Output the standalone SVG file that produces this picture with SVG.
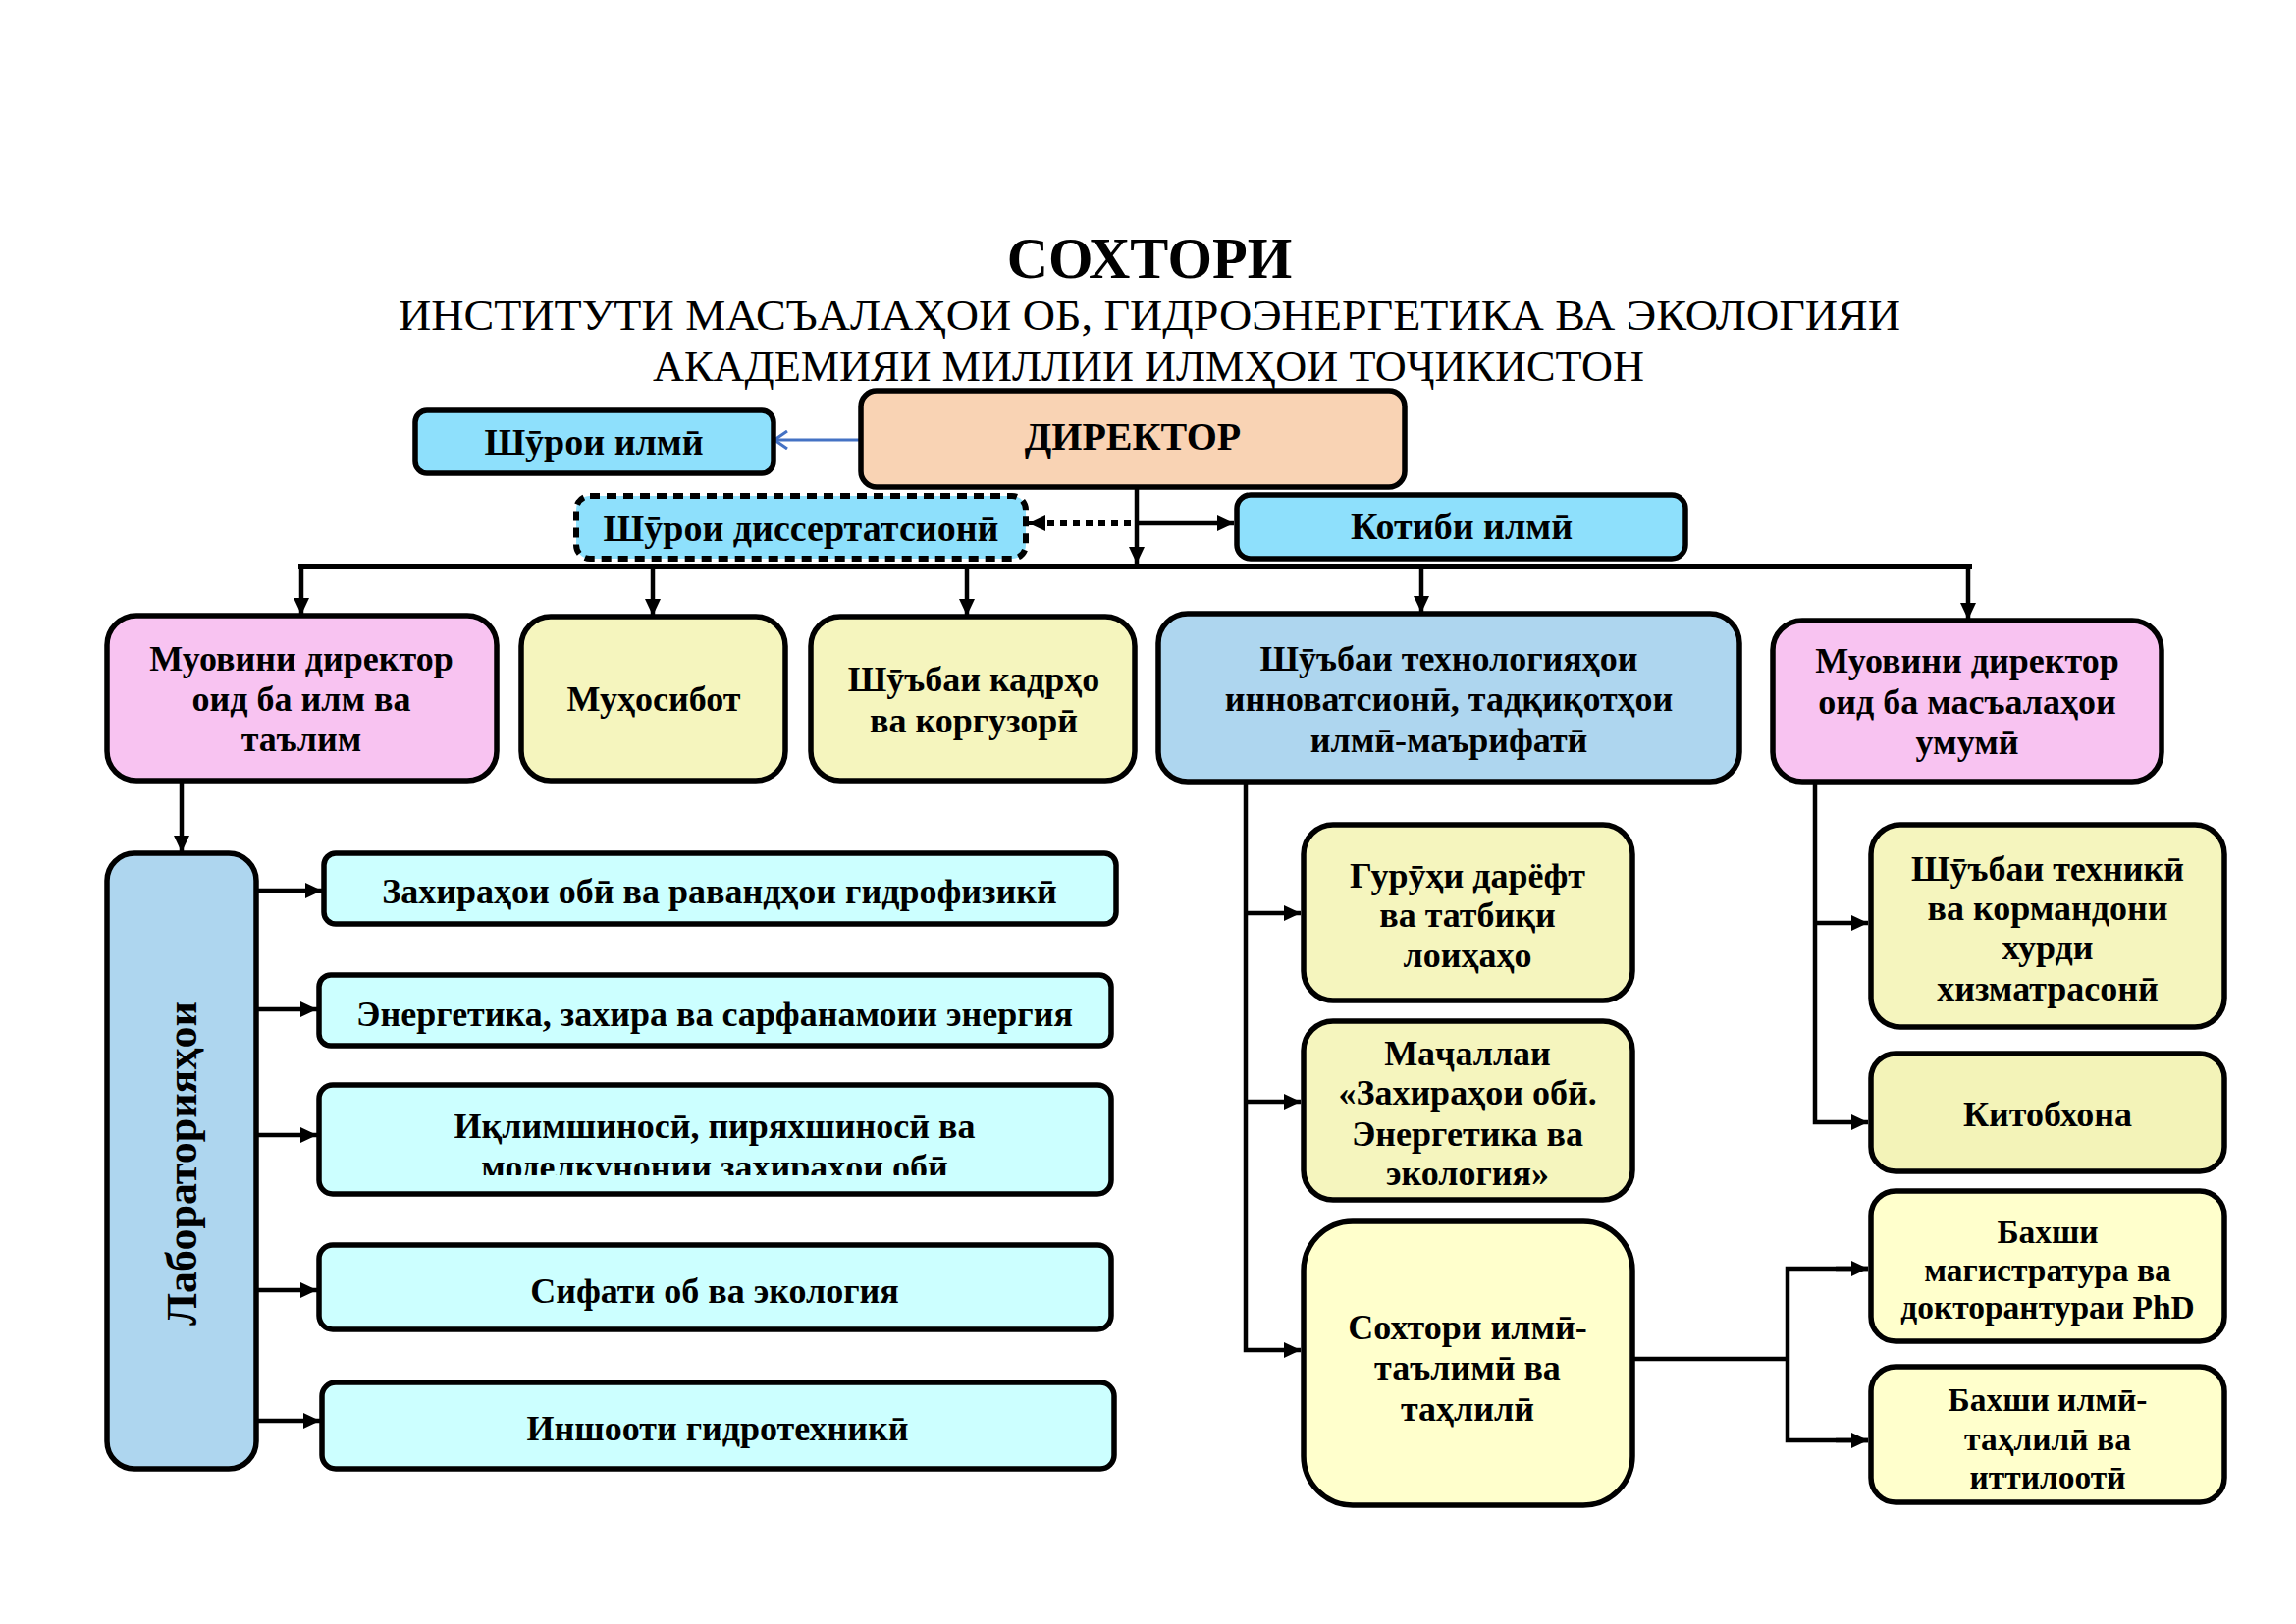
<svg xmlns="http://www.w3.org/2000/svg" width="2339" height="1654" viewBox="0 0 2339 1654">
<style>
text{font-family:"Liberation Serif","Times New Roman",serif;fill:#000;text-anchor:middle}
.b{font-weight:bold}
.box{stroke:#000;stroke-width:5.5}
.cyan{fill:#8EE0FC}
.peach{fill:#F9D3B4}
.pink{fill:#F8C3F1}
.yel{fill:#F5F5BE}
.lyel{fill:#FFFFCC}
.blue{fill:#AED6EF}
.lab{fill:#CCFFFF}
.t38{font-size:38px;font-weight:bold}
.t36{font-size:36px;font-weight:bold}
.t33{font-size:33.5px;font-weight:bold}
.ln{stroke:#000;stroke-width:4.5;fill:none}
</style>
<defs>
<marker id="ah" markerUnits="userSpaceOnUse" markerWidth="18" markerHeight="18" refX="17" refY="9" orient="auto"><path d="M0,1 L17,9 L0,17 z" fill="#000"/></marker>
<marker id="ahb" markerUnits="userSpaceOnUse" markerWidth="16" markerHeight="20" refX="14" refY="10" orient="auto"><path d="M1,1 L14,10 L1,19" fill="none" stroke="#4472C4" stroke-width="3"/></marker>
<clipPath id="clipc"><rect x="320" y="1100" width="830" height="97"/></clipPath>
</defs>
<rect width="2339" height="1654" fill="#fff"/>
<g id="title">
<text x="1171" y="283" class="b" font-size="58.5">СОХТОРИ</text>
<text x="1171" y="336" font-size="45" textLength="1530" lengthAdjust="spacingAndGlyphs">ИНСТИТУТИ МАСЪАЛАҲОИ ОБ, ГИДРОЭНЕРГЕТИКА ВА ЭКОЛОГИЯИ</text>
<text x="1170" y="388" font-size="45" textLength="1010" lengthAdjust="spacingAndGlyphs">АКАДЕМИЯИ МИЛЛИИ ИЛМҲОИ ТОҶИКИСТОН</text>
</g>
<g id="connectors">
<line x1="875" y1="448" x2="789" y2="448" stroke="#4472C4" stroke-width="3" marker-end="url(#ahb)"/>
<line class="ln" x1="1158" y1="497" x2="1158" y2="574" marker-end="url(#ah)"/>
<line x1="1152" y1="533" x2="1060" y2="533" stroke="#000" stroke-width="6" stroke-dasharray="7,6"/>
<line x1="1062" y1="533" x2="1048" y2="533" stroke="#000" stroke-width="4" marker-end="url(#ah)"/>
<line class="ln" x1="1158" y1="533" x2="1257" y2="533" marker-end="url(#ah)"/>
<line x1="304" y1="577" x2="2009" y2="577" stroke="#000" stroke-width="6"/>
<line class="ln" x1="307" y1="577" x2="307" y2="626" marker-end="url(#ah)"/>
<line class="ln" x1="665" y1="577" x2="665" y2="627" marker-end="url(#ah)"/>
<line class="ln" x1="985" y1="577" x2="985" y2="627" marker-end="url(#ah)"/>
<line class="ln" x1="1448" y1="577" x2="1448" y2="624" marker-end="url(#ah)"/>
<line class="ln" x1="2005" y1="577" x2="2005" y2="631" marker-end="url(#ah)"/>
<line class="ln" x1="185" y1="795" x2="185" y2="868" marker-end="url(#ah)"/>
<line class="ln" x1="261" y1="907" x2="328" y2="907" stroke-width="6" marker-end="url(#ah)"/>
<line class="ln" x1="261" y1="1028" x2="323" y2="1028" stroke-width="6" marker-end="url(#ah)"/>
<line class="ln" x1="261" y1="1156" x2="323" y2="1156" stroke-width="6" marker-end="url(#ah)"/>
<line class="ln" x1="261" y1="1314" x2="323" y2="1314" stroke-width="6" marker-end="url(#ah)"/>
<line class="ln" x1="261" y1="1447" x2="326" y2="1447" stroke-width="6" marker-end="url(#ah)"/>
<polyline class="ln" points="1269,796 1269,1375 1325,1375" marker-end="url(#ah)"/>
<line class="ln" x1="1269" y1="930" x2="1325" y2="930" marker-end="url(#ah)"/>
<line class="ln" x1="1269" y1="1122" x2="1325" y2="1122" marker-end="url(#ah)"/>
<polyline class="ln" points="1849,796 1849,1143 1903,1143" marker-end="url(#ah)"/>
<line class="ln" x1="1849" y1="940" x2="1903" y2="940" marker-end="url(#ah)"/>
<line class="ln" x1="1663" y1="1384" x2="1821" y2="1384"/>
<polyline class="ln" points="1903,1292 1821,1292 1821,1467 1903,1467"/>
<line class="ln" x1="1870" y1="1292" x2="1903" y2="1292" marker-end="url(#ah)"/>
<line class="ln" x1="1870" y1="1467" x2="1903" y2="1467" marker-end="url(#ah)"/>
</g>
<g id="shuroi-ilmi"><rect class="box cyan" x="423" y="418" width="365" height="64" rx="12"/><text x="605" y="463" class="t38">Шӯрои илмӣ</text></g>
<g id="director"><rect class="box peach" x="877" y="398" width="554" height="98" rx="16" stroke-width="7"/><text x="1154" y="458" class="b" font-size="40">ДИРЕКТОР</text></g>
<g id="shuroi-dissert"><rect x="587" y="505" width="458" height="64" rx="14" class="cyan" stroke="#000" stroke-width="6" stroke-dasharray="10,7"/><text x="816" y="551" class="t38">Шӯрои диссертатсионӣ</text></g>
<g id="kotibi"><rect class="box cyan" x="1260" y="504" width="457" height="65" rx="14"/><text x="1489" y="549" class="t38">Котиби илмӣ</text></g>
<g id="muovin1"><rect class="box pink" x="109" y="627" width="397" height="168" rx="30"/><text class="t36"><tspan x="307" y="683">Муовини директор</tspan><tspan x="307" y="724">оид ба илм ва</tspan><tspan x="307" y="765">таълим</tspan></text></g>
<g id="muhosibot"><rect class="box yel" x="531" y="628" width="269" height="167" rx="30"/><text x="666" y="724" class="t36">Муҳосибот</text></g>
<g id="kadrho"><rect class="box yel" x="826" y="628" width="330" height="167" rx="30"/><text class="t36"><tspan x="992" y="704">Шӯъбаи кадрҳо</tspan><tspan x="992" y="746">ва коргузорӣ</tspan></text></g>
<g id="tech"><rect class="box blue" x="1180" y="625" width="592" height="171" rx="30"/><text class="t36"><tspan x="1476" y="683">Шӯъбаи технологияҳои</tspan><tspan x="1476" y="724">инноватсионӣ, тадқиқотҳои</tspan><tspan x="1476" y="766">илмӣ-маърифатӣ</tspan></text></g>
<g id="muovin2"><rect class="box pink" x="1806" y="632" width="396" height="164" rx="30"/><text class="t36"><tspan x="2004" y="685">Муовини директор</tspan><tspan x="2004" y="727">оид ба масъалаҳои</tspan><tspan x="2004" y="768">умумӣ</tspan></text></g>
<g id="labs"><rect class="box blue" x="109" y="869" width="152" height="627" rx="28"/><text transform="translate(200,1185) rotate(-90)" class="b" font-size="44">Лабораторияҳои</text></g>
<g id="lab1"><rect class="box lab" x="330" y="869" width="807" height="72" rx="12"/><text x="733" y="920" class="t36">Захираҳои обӣ ва равандҳои гидрофизикӣ</text></g>
<g id="lab2"><rect class="box lab" x="325" y="993" width="807" height="72" rx="12"/><text x="728" y="1045" class="t36">Энергетика, захира ва сарфанамоии энергия</text></g>
<g id="lab3"><rect class="box lab" x="325" y="1105" width="807" height="111" rx="14"/><text x="728" y="1159" class="t36">Иқлимшиносӣ, пиряхшиносӣ ва</text><text x="728" y="1201" class="t36" clip-path="url(#clipc)">моделкунонии захираҳои обӣ</text></g>
<g id="lab4"><rect class="box lab" x="325" y="1268" width="807" height="86" rx="14"/><text x="728" y="1327" class="t36">Сифати об ва экология</text></g>
<g id="lab5"><rect class="box lab" x="328" y="1408" width="807" height="88" rx="14"/><text x="731" y="1467" class="t36">Иншооти гидротехникӣ</text></g>
<g id="guruh"><rect class="box yel" x="1328" y="840" width="335" height="179" rx="30"/><text class="t36"><tspan x="1495" y="904">Гурӯҳи дарёфт</tspan><tspan x="1495" y="944">ва татбиқи</tspan><tspan x="1495" y="985">лоиҳаҳо</tspan></text></g>
<g id="majalla"><rect class="box yel" x="1328" y="1040" width="335" height="182" rx="30"/><text class="t36"><tspan x="1495" y="1085">Маҷаллаи</tspan><tspan x="1495" y="1125">«Захираҳои обӣ.</tspan><tspan x="1495" y="1167">Энергетика ва</tspan><tspan x="1495" y="1207">экология»</tspan></text></g>
<g id="sohtori"><rect class="box lyel" x="1328" y="1244" width="335" height="289" rx="50"/><text class="t36"><tspan x="1495" y="1364">Сохтори илмӣ-</tspan><tspan x="1495" y="1405">таълимӣ ва</tspan><tspan x="1495" y="1447">таҳлилӣ</tspan></text></g>
<g id="shubai-tehniki"><rect class="box yel" x="1906" y="840" width="360" height="206" rx="30"/><text class="t36"><tspan x="2086" y="897">Шӯъбаи техникӣ</tspan><tspan x="2086" y="937">ва кормандони</tspan><tspan x="2086" y="977">хурди</tspan><tspan x="2086" y="1019">хизматрасонӣ</tspan></text></g>
<g id="kitobhona"><rect class="box" fill="#F3F3B8" x="1906" y="1073" width="360" height="120" rx="25"/><text x="2086" y="1147" class="t36">Китобхона</text></g>
<g id="magistratura"><rect class="box lyel" x="1906" y="1213" width="360" height="153" rx="25"/><text class="t33"><tspan x="2086" y="1266">Бахши</tspan><tspan x="2086" y="1305">магистратура ва</tspan><tspan x="2086" y="1343">докторантураи PhD</tspan></text></g>
<g id="ittiloot"><rect class="box lyel" x="1906" y="1392" width="360" height="138" rx="25"/><text class="t33"><tspan x="2086" y="1437">Бахши илмӣ-</tspan><tspan x="2086" y="1477">таҳлилӣ ва</tspan><tspan x="2086" y="1516">иттилоотӣ</tspan></text></g>
</svg>
